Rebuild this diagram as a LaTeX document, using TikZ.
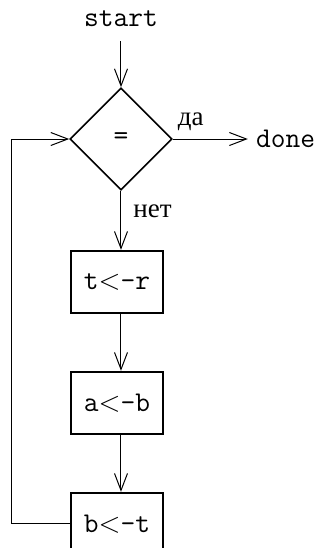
\documentclass[tikz,border=0pt]{standalone}
\usepackage{fontspec}
\setmainfont{Liberation Serif}
\usetikzlibrary{arrows.meta,positioning,shapes.geometric}
\tikzset{
  box/.style={draw, rectangle, line width=1pt, font=\ttfamily\fontsize{14.3}{17}\selectfont, minimum width=46pt, minimum height=31pt, inner sep=2pt},
  dbox/.style={draw, diamond, line width=0.8pt, font=\ttfamily\fontsize{14.3}{17}\selectfont, minimum width=51pt, minimum height=51pt, inner sep=0pt, aspect=1},
  term/.style={font=\ttfamily\fontsize{14.3}{17}\selectfont, inner sep=5pt},
  arr/.style={-{Straight Barb[length=8.5pt,width=6.5pt]}, line width=0.5pt},
  lbl/.style={font=\fontsize{13.5}{16}\selectfont, inner sep=2pt},
}
\begin{document}
\begin{tikzpicture}[x=0.5pt, y=-0.5pt, node distance=28.5pt]
\useasboundingbox (0,0) rectangle (322,548);
\node[dbox] (eq) at (121,139) {=};
\node[term, above=23pt of eq, inner sep=7pt] (start) {start};
\node[term, right=37.5pt of eq, inner sep=4pt] (done) {done};
\node[box, below=29.5pt of eq, xshift=-2pt] (t) {t$<$-r};
\node[box, below=of t] (a) {a$<$-b};
\node[box, below=of a] (b) {b$<$-t};
\draw[arr] (start) -- (eq);
\draw[arr] (eq) -- node[lbl, pos=0.24, above=2pt] {да} (done);
\draw[arr] (eq.south) -- node[lbl, pos=0.34, right=4pt] {нет} (eq.south |- t.north);
\draw[arr] (t.south -| eq.south) -- (a.north -| eq.south);
\draw[arr] (a.south -| eq.south) -- (b.north -| eq.south);
\draw[arr] (b.west) -- ++(-29pt,0) |- (eq.west);
\end{tikzpicture}
\end{document}
